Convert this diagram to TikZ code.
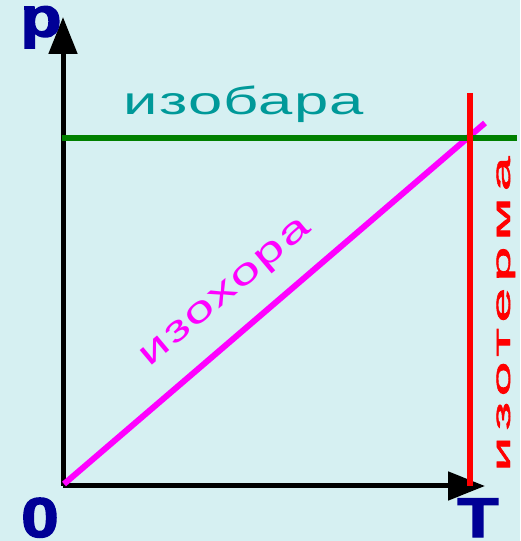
\documentclass[tikz,border=0pt]{standalone}
\usepackage{fontspec}
\setmainfont{Liberation Sans}
\newfontfamily\axfont[FakeBold=2.5]{Liberation Sans}
\usepackage{tikz}
\usetikzlibrary{arrows.meta}
\definecolor{cBg}{RGB}{214,240,242}
\definecolor{cAx}{RGB}{0,0,150}
\definecolor{cBar}{RGB}{0,153,153}
\definecolor{cGr}{RGB}{0,128,0}
\definecolor{cMag}{RGB}{255,0,255}
\tikzset{
  ax/.style={line width=5pt, -{Triangle[length=37pt, width=28pt]}},
  ln/.style={line width=6pt},
  axlbl/.style={font=\axfont\bfseries\fontsize{56}{56}\selectfont, text=cAx, inner sep=0pt, anchor=base, xscale=1.2, text height=29pt, text depth=0pt},
  crv/.style={inner sep=0pt, anchor=base}
}

\begin{document}
\begin{tikzpicture}[x=1pt, y=1pt]
  \fill[cBg] (0,0) rectangle (520,541);
  \useasboundingbox (0,0) rectangle (520,541);
  % axes
  \coordinate (O) at (63,55);
  \coordinate (pend) at (63,524);
  \coordinate (Tend) at (485,55);
  \draw[ax] (O) -- (pend);
  \draw[ax] (O) -- (Tend);
  % processes
  \coordinate (vA) at (64,57);
  \coordinate (vB) at (485,418);
  \coordinate (bA) at (62,403);
  \coordinate (bB) at (517,403);
  \coordinate (tA) at (470,448);
  \coordinate (tB) at (470,55);
  \draw[ln, cMag] (vA) -- (vB);
  \draw[ln, cGr] (bA) -- (bB);
  \draw[ln, red] (tA) -- (tB);
  % labels
  \node[axlbl, text depth=12pt] (p) at (41,504.5) {p};
  \node[axlbl, text height=40pt] (zero) at (40,4) {0};
  \node[axlbl, text height=40pt] (T) at (478,4) {T};
  \node[crv, text=cBar, xscale=1.58, font=\fontsize{39}{41}\selectfont\addfontfeature{LetterSpace=2}] (bar) at (244,426) {изобара};
  \node[crv, text=cMag, rotate=40, xscale=1.5, font=\fontsize{36}{38}\selectfont\addfontfeature{LetterSpace=4}] (hor) at (231,242) {изохора};
  \node[crv, text=red, rotate=90, xscale=2.5, font=\fontsize{25}{26}\selectfont\addfontfeature{LetterSpace=10,FakeBold=1.5}] (term) at (510,227) {изотерма};
\end{tikzpicture}
\end{document}
